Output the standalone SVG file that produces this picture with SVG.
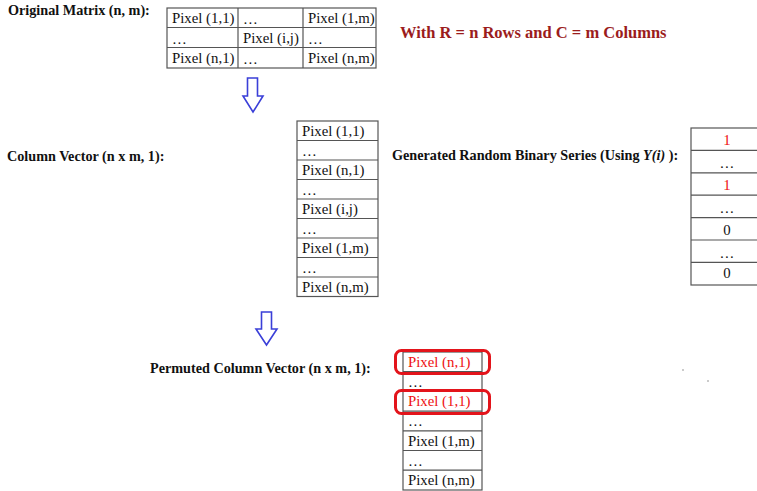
<svg xmlns="http://www.w3.org/2000/svg" width="757" height="491" viewBox="0 0 757 491">
  <style>
    .title { font-family: "Liberation Serif", "Times New Roman", serif; font-weight: bold; font-size: 14.2px; fill: #111; }
    .note { font-family: "Liberation Serif", "Times New Roman", serif; font-weight: bold; font-size: 16.5px; fill: #9b1c1c; }
    .cell { font-family: "Liberation Serif", "Times New Roman", serif; font-size: 14.8px; fill: #111; }
    .red { fill: #ee1111; }
    .grid { fill: #fff; stroke: #555; stroke-width: 1.2; }
    .line { stroke: #555; stroke-width: 1.2; fill: none; }
    .arrow { fill: #fff; stroke: #3a3fd8; stroke-width: 1.6; stroke-linejoin: miter; }
    .ring { fill: none; stroke: #e3141b; stroke-width: 3; }
    .mid { text-anchor: middle; }
  </style>

  <rect width="757" height="491" fill="#fff"/>

  <!-- source matrix -->
  <g id="original-matrix">
    <text class="title" x="8" y="15">Original Matrix (n, m):</text>
    <rect class="grid" x="167" y="8" width="209" height="60"/>
    <path class="line" d="M167 27.5H376M167 47.5H376M238 8V68M303 8V68"/>
    <text class="cell" x="172" y="23">Pixel (1,1)</text>
    <text class="cell" x="243" y="24">…</text>
    <text class="cell" x="308" y="23">Pixel (1,m)</text>
    <text class="cell" x="172" y="44">…</text>
    <text class="cell" x="243" y="43">Pixel (i,j)</text>
    <text class="cell" x="308" y="44">…</text>
    <text class="cell" x="172" y="63">Pixel (n,1)</text>
    <text class="cell" x="243" y="64">…</text>
    <text class="cell" x="308" y="63">Pixel (n,m)</text>
  </g>

  <g id="dimension-note">
    <text class="note" x="400" y="38">With R = n Rows and C = m Columns</text>
  </g>

  <!-- flattened column vector -->
  <g id="column-vector">
    <text class="title" x="7" y="161">Column Vector (n x m, 1):</text>
    <rect class="grid" x="297" y="121" width="81" height="175.5"/>
    <path class="line" d="M297 140.5H378M297 160H378M297 179.5H378M297 199H378M297 218.5H378M297 238H378M297 257.5H378M297 277H378"/>
    <text class="cell" x="302" y="136">Pixel (1,1)</text>
    <text class="cell" x="302" y="156">…</text>
    <text class="cell" x="302" y="175">Pixel (n,1)</text>
    <text class="cell" x="302" y="195">…</text>
    <text class="cell" x="302" y="214">Pixel (i,j)</text>
    <text class="cell" x="302" y="234">…</text>
    <text class="cell" x="302" y="253">Pixel (1,m)</text>
    <text class="cell" x="302" y="273">…</text>
    <text class="cell" x="302" y="292">Pixel (n,m)</text>
  </g>

  <!-- random binary series -->
  <g id="binary-series">
    <text class="title" x="392" y="160">Generated Random Binary Series (Using <tspan font-style="italic">Y(i)</tspan> ):</text>
    <rect class="grid" x="691" y="128" width="80" height="157"/>
    <path class="line" d="M691 150.4H771M691 172.8H771M691 195.2H771M691 217.6H771M691 240H771M691 262.4H771"/>
    <text class="cell mid red" x="727" y="145">1</text>
    <text class="cell mid" x="727" y="168">…</text>
    <text class="cell mid red" x="727" y="190">1</text>
    <text class="cell mid" x="727" y="213">…</text>
    <text class="cell mid" x="727" y="235">0</text>
    <text class="cell mid" x="727" y="258">…</text>
    <text class="cell mid" x="727" y="278">0</text>
  </g>

  <!-- permuted result -->
  <g id="permuted-vector">
    <text class="title" x="150" y="373">Permuted Column Vector (n x m, 1):</text>
    <rect class="grid" x="403" y="352" width="79" height="138"/>
    <path class="line" d="M403 371.7H482M403 391.4H482M403 411.1H482M403 430.8H482M403 450.5H482M403 470.2H482"/>
    <text class="cell red" x="408" y="367">Pixel (n,1)</text>
    <text class="cell" x="408" y="387">…</text>
    <text class="cell red" x="408" y="406">Pixel (1,1)</text>
    <text class="cell" x="408" y="426">…</text>
    <text class="cell" x="408" y="446">Pixel (1,m)</text>
    <text class="cell" x="408" y="466">…</text>
    <text class="cell" x="408" y="485">Pixel (n,m)</text>
    <rect class="ring" x="395.5" y="350.5" width="94" height="23" rx="6"/>
    <rect class="ring" x="395.5" y="390.5" width="94" height="23" rx="6"/>
  </g>

  <!-- flow arrows -->
  <g id="connectors">
    <path class="arrow" d="M247.5 78V96H243L253 112L263 96H257.5V78Z"/>
    <path class="arrow" d="M261.5 312V329H256L266.5 345L277 329H271.5V312Z"/>
  </g>

  <g id="specks" fill="#888">
    <circle cx="683" cy="370" r="0.8"/>
    <circle cx="708" cy="381" r="0.8"/>
  </g>
</svg>
